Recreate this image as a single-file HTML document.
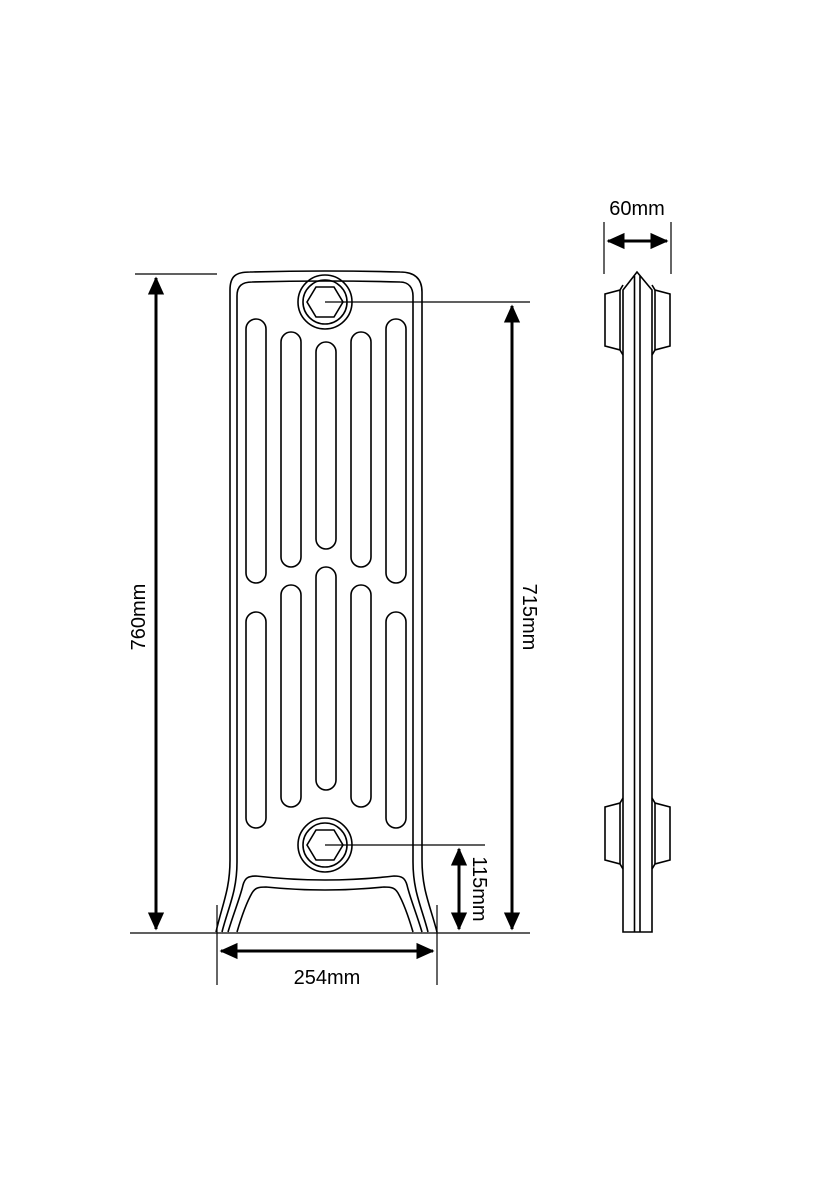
<!DOCTYPE html>
<html><head><meta charset="utf-8"><style>
html,body{margin:0;padding:0;background:#fff;}
svg{display:block}
text{font-family:"Liberation Sans",Arial,sans-serif;font-size:20px;fill:#000}
</style></head><body>
<svg width="820" height="1200" viewBox="0 0 820 1200" xmlns="http://www.w3.org/2000/svg">
<defs>
<marker id="a" markerWidth="6" markerHeight="6" refX="5.5" refY="3" orient="auto" markerUnits="strokeWidth">
<path d="M0,0.3 L6,3 L0,5.7 Z" fill="#000"/></marker>
</defs>
<g fill="none" stroke="#000" stroke-width="1.6">
<path d="M216,932 C222,905 230,890 230,860 L230,290 C230,276 236,272 250,272 Q325,270 400,272 C414,272 422,278 422,292 L422,860 C422,890 430,905 437,932"/>
<path d="M222,932 C228,908 237,892 237,862 L237,296 C237,286 242,282 252,282 Q325,280 400,282 C409,282 413,288 413,296 L413,862 C413,892 422,908 428,932"/>
<path d="M228,932 C234,912 240,898 243,885 C245,878 248,876 256,876 Q325,884 394,876 C402,876 405,878 407,885 C410,898 416,912 422,932"/>
<path d="M237,932 C242,915 248,900 252,893 C255,888 258,887 266,887 Q325,893 384,887 C392,887 395,888 398,893 C402,900 408,915 413,932"/>
<rect x="246" y="319" width="20" height="264" rx="10"/>
<rect x="246" y="612" width="20" height="216" rx="10"/>
<rect x="386" y="319" width="20" height="264" rx="10"/>
<rect x="386" y="612" width="20" height="216" rx="10"/>
<rect x="281" y="332" width="20" height="235" rx="10"/>
<rect x="281" y="585" width="20" height="222" rx="10"/>
<rect x="351" y="332" width="20" height="235" rx="10"/>
<rect x="351" y="585" width="20" height="222" rx="10"/>
<rect x="316" y="342" width="20" height="207" rx="10"/>
<rect x="316" y="567" width="20" height="223" rx="10"/>
<circle cx="325" cy="302" r="27"/><circle cx="325" cy="302" r="22"/>
<path d="M307,302 L316,287 L334,287 L343,302 L334,317 L316,317 Z"/>
<circle cx="325" cy="845" r="27"/><circle cx="325" cy="845" r="22"/>
<path d="M307,845 L316,830 L334,830 L343,845 L334,860 L316,860 Z"/>
<path d="M623,932 L623,290 L637,272 L652,290 L652,932 Z"/>
<line x1="634.5" y1="276" x2="634.5" y2="932"/>
<line x1="640" y1="276" x2="640" y2="932"/>
<path d="M623,285 L620,290 L605,294 L605,346 L620,350 L623,355"/>
<path d="M652,285 L655,290 L670,294 L670,346 L655,350 L652,355"/>
<line x1="620" y1="290" x2="620" y2="350"/>
<line x1="655" y1="290" x2="655" y2="350"/>
<path d="M623,798 L620,803 L605,807 L605,860 L620,864 L623,869"/>
<path d="M652,798 L655,803 L670,807 L670,860 L655,864 L652,869"/>
<line x1="620" y1="803" x2="620" y2="864"/>
<line x1="655" y1="803" x2="655" y2="864"/>
</g>
<g stroke="#000" stroke-width="1.2" fill="none">
<line x1="135" y1="274" x2="217" y2="274"/>
<line x1="130" y1="933" x2="530" y2="933"/>
<line x1="325" y1="302" x2="530" y2="302"/>
<line x1="325" y1="845" x2="485" y2="845"/>
<line x1="217" y1="905" x2="217" y2="985"/>
<line x1="437" y1="905" x2="437" y2="985"/>
<line x1="604" y1="222" x2="604" y2="274"/>
<line x1="671" y1="222" x2="671" y2="274"/>
</g>
<g stroke="#000" stroke-width="3" fill="none">
<line x1="156" y1="600" x2="156" y2="278" marker-end="url(#a)"/>
<line x1="156" y1="600" x2="156" y2="929" marker-end="url(#a)"/>
<line x1="512" y1="600" x2="512" y2="306" marker-end="url(#a)"/>
<line x1="512" y1="600" x2="512" y2="929" marker-end="url(#a)"/>
<line x1="459" y1="889" x2="459" y2="849" marker-end="url(#a)"/>
<line x1="459" y1="889" x2="459" y2="929" marker-end="url(#a)"/>
<line x1="327" y1="951" x2="221" y2="951" marker-end="url(#a)"/>
<line x1="327" y1="951" x2="433" y2="951" marker-end="url(#a)"/>
<line x1="637" y1="241" x2="608" y2="241" marker-end="url(#a)"/>
<line x1="637" y1="241" x2="667" y2="241" marker-end="url(#a)"/>
</g>
<text x="637" y="215" text-anchor="middle">60mm</text>
<text x="327" y="984" text-anchor="middle">254mm</text>
<text transform="translate(145,617) rotate(-90)" text-anchor="middle">760mm</text>
<text transform="translate(523,617) rotate(90)" text-anchor="middle">715mm</text>
<text transform="translate(473,889) rotate(90)" text-anchor="middle">115mm</text>
</svg>
</body></html>
